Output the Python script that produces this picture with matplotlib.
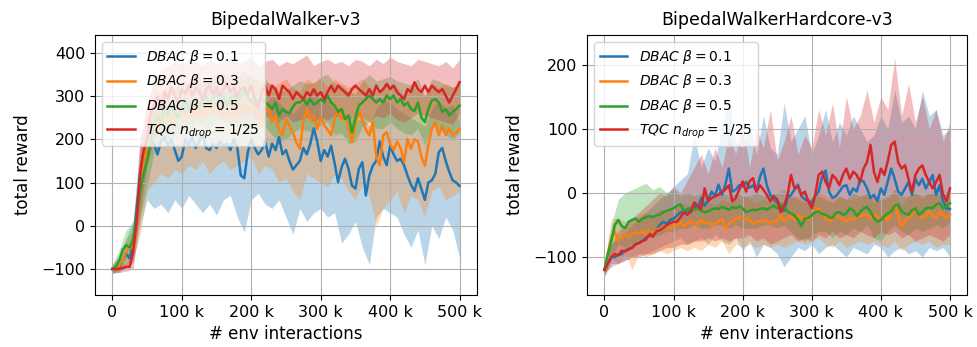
import numpy as np
import matplotlib
matplotlib.use("Agg")
import matplotlib.pyplot as plt
from matplotlib.ticker import EngFormatter

# x grids (env interactions)
steps_mean = np.arange(0, 500001, 5000)
steps_band = np.arange(0, 500001, 10000)

labels = [r'$DBAC\ \beta = 0.1$', r'$DBAC\ \beta = 0.3$', r'$DBAC\ \beta = 0.5$', r'$TQC\ n_{drop} = 1/25$']
colors = ['tab:blue', 'tab:orange', 'tab:green', 'tab:red']

# ---------------- BipedalWalker-v3 ----------------
blue_L = [-100,
 -100,-95,-80,-65,-75,-40,40,120,170,185,
 200,190,165,195,205,185,200,175,150,160,
 200,185,205,180,195,210,180,175,190,180,
 195,185,190,175,200,180,116,110,170,200,
 180,165,175,195,160,190,175,205,165,175,
 150,130,140,150,180,165,190,225,195,150,
 175,160,185,145,101,135,155,132,93,86,
 132,147,70,116,139,150,195,160,140,185,
 165,150,155,140,116,95,80,110,85,60,
 100,105,120,170,180,150,125,105,100,92]
orange_L = [-100,
 -100,-92,-80,-60,-50,-50,0,80,150,180,
 210,240,220,260,240,270,250,230,265,255,
 240,270,250,280,260,245,275,260,285,265,
 250,270,255,265,240,275,260,280,300,263,
 285,250,232,265,270,240,255,220,209,247,
 230,216,193,178,240,270,245,255,224,250,
 232,222,209,245,270,245,255,222,193,235,
 263,245,222,209,240,160,140,209,216,190,
 175,195,180,147,201,178,200,195,160,139,
 186,224,240,209,232,210,225,210,216,224]
green_L = [-100,
 -95,-80,-55,-45,-50,-30,20,80,120,150,
 190,230,250,240,270,255,280,265,250,275,
 290,270,285,295,275,290,300,280,295,305,
 285,300,275,295,305,290,300,310,295,290,
 280,290,295,285,280,270,285,255,270,263,
 260,275,285,285,293,280,293,280,285,293,
 285,301,285,278,263,270,247,255,216,250,
 278,285,293,301,293,285,293,285,301,293,
 301,285,293,278,285,270,265,285,250,240,
 270,290,293,285,263,270,255,263,270,278]
red_L = [-100,
 -100,-100,-98,-95,-95,-60,10,120,175,200,
 260,280,300,270,310,295,320,300,285,315,
 305,325,300,320,310,290,315,325,305,320,
 300,315,330,310,320,300,315,320,305,324,
 293,270,309,324,301,324,316,293,324,316,
 309,293,309,301,293,309,301,316,301,309,
 293,309,324,309,324,316,309,301,316,324,
 316,309,301,316,301,324,309,316,328,316,
 324,309,301,293,316,309,332,316,309,324,
 309,324,316,309,316,301,285,301,316,332]

blue_L_lo = [-110,-108,-95,-85,0,60,40,50,30,60,
 40,70,50,30,50,25,60,70,20,-15,
 60,75,50,40,60,20,-20,40,10,30,
 40,20,30,-40,-20,10,-50,-90,20,40,
 30,20,-20,-50,-10,-90,0,-30,20,-10,
 -75]
blue_L_hi = [-90,-70,-30,10,200,250,270,260,290,280,
 270,290,280,285,270,290,300,285,290,280,
 290,270,280,300,285,270,260,275,300,310,
 280,290,270,250,260,240,250,230,270,290,
 285,270,260,250,240,230,270,290,270,280,
 240]
orange_L_lo = [-110,-105,-90,-80,-20,80,100,120,110,130,
 120,140,130,150,120,140,150,130,140,150,
 160,120,140,130,100,110,80,60,120,110,
 100,90,120,110,80,60,100,70,0,40,
 60,80,30,70,60,20,80,90,60,70,
 80]
orange_L_hi = [-90,-70,-30,-10,180,290,320,310,330,320,
 340,330,340,320,340,330,340,320,345,340,
 350,330,340,320,330,340,320,310,340,330,
 340,320,340,330,320,330,340,320,310,320,
 330,320,300,330,310,300,330,320,330,320,
 330]
green_L_lo = [-110,-100,-80,-60,20,90,170,190,200,210,
 220,215,240,230,225,250,240,235,230,250,
 230,225,230,210,195,200,215,225,220,215,
 235,240,210,215,190,195,230,240,225,225,
 240,225,215,210,225,185,230,225,210,200,
 215]
green_L_hi = [-90,-55,-10,10,140,210,290,300,310,320,
 330,320,345,340,335,355,350,345,340,360,
 340,340,335,325,310,315,325,335,330,330,
 345,350,330,325,310,305,335,350,335,340,
 345,335,330,325,340,300,340,335,325,320,
 330]
red_L_lo = [-108,-108,-105,-100,30,140,200,230,240,250,
 255,260,255,250,260,255,250,260,250,255,
 260,240,255,250,240,255,240,245,250,240,
 250,245,255,250,245,255,250,240,255,250,
 260,245,240,250,260,255,250,245,240,235,
 260]
red_L_hi = [-92,-90,-85,-40,200,280,340,360,370,380,
 375,385,380,370,385,375,380,390,375,380,
 390,370,380,385,370,380,375,385,395,370,
 380,385,375,380,370,385,380,370,385,375,
 390,380,375,370,385,380,375,370,380,365,
 385]

# ---------------- BipedalWalkerHardcore-v3 ----------------
blue_R = [-120,
 -110,-100,-100,-97,-95,-90,-87,-85,-80,-78,
 -75,-70,-65,-62,-58,-50,-45,-48,-42,-40,
 -35,-30,-32,-28,-30,-20,-25,-8,-20,-12,
 2,-5,13,-3,13,38,2,5,12,10,
 17,8,12,2,25,38,12,-3,-10,-15,
 -20,-28,-8,-3,5,13,-5,-10,-13,-15,
 -5,2,25,35,2,-8,-5,2,10,12,
 -3,7,2,20,18,7,-8,-3,-13,7,
 -3,18,38,22,2,-3,7,17,-3,22,
 12,22,7,17,28,-3,12,-13,-24,-25]
orange_R = [-120,
 -95,-70,-60,-75,-70,-65,-68,-65,-62,-63,
 -60,-65,-58,-62,-58,-55,-57,-54,-55,-52,
 -50,-45,-52,-48,-44,-50,-47,-42,-47,-45,
 -50,-48,-45,-40,-55,-48,-44,-40,-38,-40,
 -39,-42,-48,-45,-44,-42,-44,-48,-44,-44,
 -34,-44,-39,-36,-42,-34,-40,-37,-42,-36,
 -28,-24,-34,-39,-44,-40,-36,-38,-41,-44,
 -39,-42,-38,-36,-34,-34,-39,-34,-38,-40,
 -34,-44,-30,-18,-34,-53,-44,-39,-33,-29,
 -34,-39,-36,-29,-36,-39,-29,-34,-39,-34]
green_R = [-120,
 -95,-75,-50,-42,-52,-55,-45,-42,-40,-45,
 -40,-38,-36,-38,-35,-34,-30,-28,-26,-24,
 -20,-18,-28,-25,-24,-26,-24,-28,-30,-29,
 -26,-24,-25,-22,-24,-26,-22,-24,-21,-24,
 -30,-28,-26,-27,-25,-24,-26,-23,-20,-24,
 -18,-22,-29,-32,-35,-42,-52,-40,-39,-35,
 -30,-29,-33,-34,-38,-39,-31,-30,-34,-32,
 -24,-27,-36,-30,-24,-22,-29,-39,-45,-42,
 -36,-32,-29,-20,-18,-29,-32,-34,-27,-24,
 -34,-30,-24,-23,-24,-18,-16,-24,-20,-16]
red_R = [-120,
 -110,-100,-95,-97,-90,-91,-88,-86,-80,-78,
 -75,-73,-65,-68,-60,-58,-55,-50,-47,-45,
 -45,-38,-30,-34,-29,-15,-20,-25,7,-13,
 -8,-5,-3,2,5,12,-13,-8,5,18,
 2,18,23,2,12,5,-3,-13,-5,-10,
 -30,-20,-3,28,7,10,-3,2,-13,-24,
 -3,28,33,17,7,28,22,12,28,38,
 22,33,28,17,38,48,75,33,17,38,
 28,49,75,80,48,38,43,22,2,28,
 38,43,28,17,7,17,28,-3,-13,7]

blue_R_lo = [-130,-110,-110,-105,-100,-95,-95,-90,-85,-80,
 -75,-70,-80,-75,-70,-80,-65,-75,-80,-70,
 -90,-75,-100,-80,-85,-95,-115,-100,-85,-90,
 -80,-95,-85,-80,-90,-100,-85,-90,-95,-80,
 -85,-100,-90,-85,-95,-90,-100,-85,-90,-85,
 -100]
blue_R_hi = [-110,-80,-70,-60,-50,-40,-30,-20,-10,0,
 10,20,30,90,40,70,50,100,150,80,
 70,110,60,120,70,60,140,80,100,120,
 60,90,130,80,110,90,120,100,80,90,
 120,100,160,110,120,100,160,120,130,90,
 100]
orange_R_lo = [-130,-100,-110,-95,-120,-95,-100,-95,-90,-95,
 -90,-85,-90,-85,-90,-80,-85,-75,-95,-80,
 -85,-80,-85,-80,-85,-80,-85,-80,-75,-80,
 -75,-70,-80,-85,-75,-85,-80,-75,-80,-75,
 -80,-85,-75,-90,-80,-75,-80,-75,-85,-80,
 -80]
orange_R_hi = [-110,-40,-40,-45,-40,-35,-30,-35,-25,-30,
 -20,-15,-20,-15,-10,-15,-20,-10,-15,-10,
 -5,-10,-15,-10,-15,-10,-15,-5,-5,-10,
 -5,5,-5,-10,-5,-10,-10,-5,-5,-5,
 -10,-10,5,-20,-5,0,-10,0,-5,0,
 -5]
green_R_lo = [-130,-100,-80,-85,-80,-75,-70,-70,-65,-60,
 -60,-55,-55,-50,-55,-55,-50,-50,-55,-50,
 -55,-55,-55,-50,-50,-55,-50,-60,-70,-75,
 -65,-60,-60,-70,-60,-65,-55,-60,-50,-70,
 -75,-60,-50,-60,-65,-55,-60,-55,-50,-55,
 -45]
green_R_hi = [-110,-50,-10,0,5,10,15,5,10,0,
 5,-5,0,-5,0,-5,-5,0,-5,0,
 -5,-5,0,-5,0,0,5,-5,-10,-15,
 -10,-5,-10,-15,-5,-10,0,-5,0,-15,
 -10,-5,5,-5,-5,0,-5,0,5,0,
 5]
red_R_lo = [-125,-115,-110,-105,-100,-100,-95,-95,-90,-85,
 -85,-80,-80,-75,-75,-70,-75,-70,-75,-70,
 -70,-65,-75,-70,-80,-75,-70,-65,-75,-70,
 -75,-65,-70,-60,-70,-65,-70,-60,-65,-70,
 -60,-65,-60,-70,-65,-75,-70,-65,-70,-75,
 -65]
red_R_hi = [-110,-80,-60,-50,-40,-30,-20,-10,0,-5,
 10,0,20,40,60,30,70,40,90,60,
 110,40,100,70,130,50,80,120,60,90,
 70,130,90,140,70,150,100,120,160,110,
 150,130,210,120,170,110,150,100,130,80,
 110]

panels = [
    dict(title='BipedalWalker-v3',
         means=[blue_L, orange_L, green_L, red_L],
         los=[blue_L_lo, orange_L_lo, green_L_lo, red_L_lo],
         his=[blue_L_hi, orange_L_hi, green_L_hi, red_L_hi],
         ylim=(-160, 441), yticks=[-100, 0, 100, 200, 300, 400]),
    dict(title='BipedalWalkerHardcore-v3',
         means=[blue_R, orange_R, green_R, red_R],
         los=[blue_R_lo, orange_R_lo, green_R_lo, red_R_lo],
         his=[blue_R_hi, orange_R_hi, green_R_hi, red_R_hi],
         ylim=(-159, 246), yticks=[-100, 0, 100, 200]),
]

fig = plt.figure(figsize=(9.77, 3.47), dpi=100)
rects = [[0.0972, 0.150, 0.391, 0.749], [0.601, 0.150, 0.389, 0.749]]

for rect, p in zip(rects, panels):
    ax = fig.add_axes(rect)
    for m, lo, hi, c, lab in zip(p['means'], p['los'], p['his'], colors, labels):
        ax.fill_between(steps_band, lo, hi, color=c, alpha=0.3, linewidth=0)
        ax.plot(steps_mean, m, color=c, lw=1.8, label=lab)
    ax.set_xlim(-25000, 525000)
    ax.set_ylim(*p['ylim'])
    ax.set_yticks(p['yticks'])
    ax.set_xticks(np.arange(0, 500001, 100000))
    ax.xaxis.set_major_formatter(EngFormatter())
    ax.tick_params(labelsize=11.5)
    ax.grid(True)
    ax.set_title(p['title'], fontsize=12.5, pad=7)
    ax.set_xlabel('# env interactions', fontsize=12, labelpad=3.5)
    ax.set_ylabel('total reward', fontsize=12, labelpad=7)
    ax.legend(loc='upper left', fontsize=10)

fig.savefig('out.png', dpi=100)
